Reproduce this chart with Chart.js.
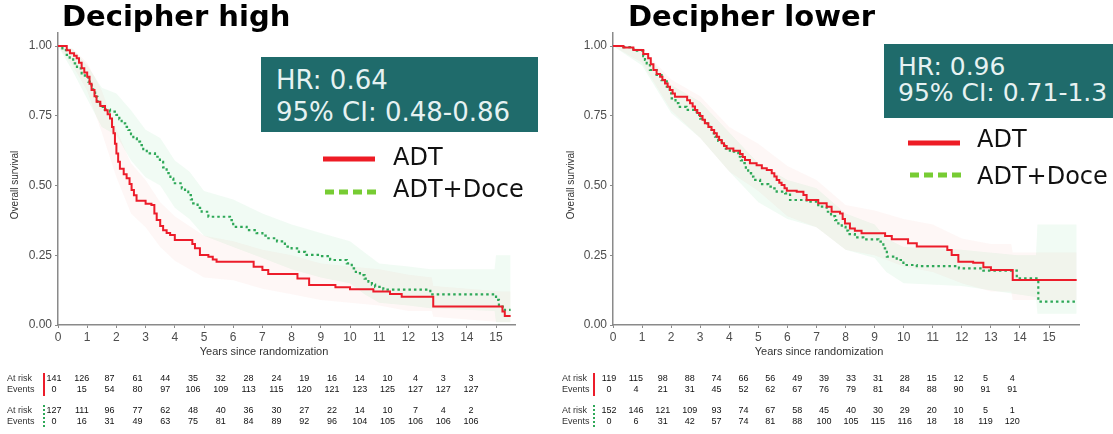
<!DOCTYPE html>
<html>
<head>
<meta charset="utf-8">
<script src="https://cdn.jsdelivr.net/npm/chart.js@4.4.1/dist/chart.umd.min.js"></script>
<style>
  html, body { margin: 0; padding: 0; background: #fff; width: 1113px; height: 434px; overflow: hidden; }
  .panel { position: absolute; top: 0; height: 434px; }
  .title { position: absolute; top: 2px; font: bold 29px "DejaVu Sans", sans-serif; line-height: 1; color: #000; white-space: nowrap; }
  .hrbox { position: absolute; background: #1f6b6b; overflow: hidden; }
  .hrbox div { position: absolute; font-family: "DejaVu Sans", sans-serif; line-height: 1; color: #e6f2f2; white-space: nowrap; }
  .leg { position: absolute; font: 24px "DejaVu Sans", sans-serif; line-height: 1; color: #111; white-space: nowrap; }
  svg.key { position: absolute; left: 0; top: 0; width: 1113px; height: 434px; pointer-events: none; }
</style>
</head>
<body>
<div class="panel" style="left:0;width:556px"><canvas id="cHigh" width="556" height="434"></canvas></div>
<div class="panel" style="left:556px;width:557px"><canvas id="cLow" width="557" height="434"></canvas></div>

<div class="title" style="left:62px">Decipher high</div>
<div class="title" style="left:628px">Decipher lower</div>

<div class="hrbox" style="left:261px;top:57px;width:277px;height:75px">
  <div style="left:15px;top:10px;font-size:26px">HR: 0.64</div>
  <div style="left:15px;top:42px;font-size:26px">95% CI: 0.48-0.86</div>
</div>
<div class="hrbox" style="left:884px;top:44px;width:229px;height:74px">
  <div style="left:14px;top:10px;font-size:25px">HR: 0.96</div>
  <div style="left:14px;top:36px;font-size:25px">95% CI: 0.71-1.3</div>
</div>

<svg class="key">
  <line x1="323" y1="159" x2="375" y2="159" stroke="#ee1c25" stroke-width="5"/>
  <line x1="325" y1="192" x2="377" y2="192" stroke="#77cc33" stroke-width="5" stroke-dasharray="9 5"/>
  <line x1="908" y1="143" x2="960" y2="143" stroke="#ee1c25" stroke-width="5"/>
  <line x1="910" y1="175" x2="962" y2="175" stroke="#77cc33" stroke-width="5" stroke-dasharray="9 5"/>
</svg>
<div class="leg" style="left:393px;top:145px">ADT</div>
<div class="leg" style="left:393px;top:177px">ADT+Doce</div>
<div class="leg" style="left:977px;top:127px">ADT</div>
<div class="leg" style="left:977px;top:164px">ADT+Doce</div>

<script>
// axis ticks
const xTicks = [0, 1, 2, 3, 4, 5, 6, 7, 8, 9, 10, 11, 12, 13, 14, 15];
const yTicks = [0, 0.25, 0.5, 0.75, 1];

// --- Decipher high: Kaplan-Meier steps (years, survival)
const highAdtT = [0, 0.3, 0.41, 0.55, 0.64, 0.72, 0.81, 0.9, 1.0, 1.08, 1.15, 1.25, 1.32, 1.45, 1.61, 1.7, 1.78, 1.85, 1.9, 1.95, 2.0, 2.06, 2.12, 2.25, 2.35, 2.45, 2.52, 2.6, 2.69, 3.0, 3.2, 3.3, 3.38, 3.5, 3.6, 3.72, 3.84, 4.0, 4.6, 4.69, 4.86, 5.15, 5.3, 5.43, 6.7, 7.0, 7.2, 8.2, 8.6, 9.5, 10.0, 10.8, 11.37, 11.77, 12.85, 15.22, 15.3, 15.5];
const highAdtS = [1, 0.985, 0.974, 0.965, 0.956, 0.94, 0.92, 0.905, 0.89, 0.865, 0.842, 0.82, 0.8, 0.785, 0.77, 0.755, 0.74, 0.71, 0.687, 0.65, 0.615, 0.585, 0.56, 0.54, 0.526, 0.505, 0.484, 0.465, 0.445, 0.435, 0.43, 0.4, 0.376, 0.355, 0.34, 0.33, 0.323, 0.305, 0.29, 0.275, 0.251, 0.245, 0.235, 0.227, 0.209, 0.197, 0.183, 0.167, 0.143, 0.135, 0.128, 0.12, 0.111, 0.101, 0.066, 0.048, 0.032, 0.032];
const highDoceT = [0, 0.15, 0.3, 0.4, 0.52, 0.65, 0.81, 0.92, 1.04, 1.15, 1.27, 1.35, 1.44, 1.6, 1.78, 2.0, 2.1, 2.18, 2.3, 2.41, 2.5, 2.58, 2.7, 2.81, 2.92, 3.04, 3.32, 3.49, 3.6, 3.72, 3.85, 3.95, 4.24, 4.35, 4.46, 4.55, 4.63, 4.78, 4.92, 5.15, 5.89, 6.0, 6.46, 6.8, 7.0, 7.15, 7.5, 7.77, 8.0, 8.25, 8.46, 8.97, 9.32, 9.89, 10.06, 10.2, 10.34, 10.5, 10.63, 10.75, 10.86, 11.14, 12.75, 15.0, 15.1, 15.3, 15.5];
const highDoceS = [1, 0.985, 0.968, 0.952, 0.938, 0.92, 0.902, 0.888, 0.872, 0.845, 0.818, 0.8, 0.782, 0.772, 0.765, 0.753, 0.738, 0.723, 0.71, 0.699, 0.684, 0.669, 0.657, 0.645, 0.63, 0.615, 0.603, 0.585, 0.565, 0.544, 0.525, 0.508, 0.49, 0.478, 0.466, 0.45, 0.436, 0.42, 0.406, 0.388, 0.376, 0.352, 0.34, 0.329, 0.32, 0.311, 0.3, 0.281, 0.275, 0.262, 0.251, 0.247, 0.233, 0.221, 0.203, 0.19, 0.179, 0.166, 0.155, 0.145, 0.137, 0.127, 0.11, 0.09, 0.066, 0.054, 0.054];
// confidence bands
const highAdtBandT = [0, 0.5, 1, 1.5, 2, 2.5, 3, 3.5, 4, 5, 6, 7, 8, 9, 10, 11, 12, 12.8, 12.85, 15.2, 15.5];
const highAdtLo = [1, 0.93, 0.84, 0.69, 0.53, 0.4, 0.35, 0.28, 0.23, 0.17, 0.16, 0.13, 0.11, 0.09, 0.08, 0.07, 0.05, 0.05, 0.03, 0.01, 0.01];
const highAdtHi = [1, 0.99, 0.94, 0.84, 0.7, 0.58, 0.52, 0.44, 0.39, 0.32, 0.3, 0.27, 0.25, 0.22, 0.21, 0.2, 0.18, 0.17, 0.14, 0.12, 0.12];
const highDoceBandT = [0, 0.5, 1, 1.5, 2, 2.5, 3, 3.5, 4, 4.5, 5, 6, 7, 8, 9, 10, 10.5, 11, 12, 12.75, 14.95, 15.0, 15.5];
const highDoceLo = [1, 0.91, 0.81, 0.71, 0.68, 0.59, 0.53, 0.5, 0.42, 0.38, 0.32, 0.28, 0.24, 0.2, 0.17, 0.15, 0.11, 0.08, 0.07, 0.06, 0.05, 0.01, 0.01];
const highDoceHi = [1, 0.99, 0.93, 0.85, 0.83, 0.77, 0.7, 0.67, 0.59, 0.55, 0.48, 0.45, 0.4, 0.36, 0.33, 0.3, 0.26, 0.22, 0.21, 0.2, 0.2, 0.25, 0.25];
// numbers at risk / events
const highAdtRisk = [141, 126, 87, 61, 44, 35, 32, 28, 24, 19, 16, 14, 10, 4, 3, 3];
const highAdtEvents = [0, 15, 54, 80, 97, 106, 109, 113, 115, 120, 121, 123, 125, 127, 127, 127];
const highDoceRisk = [127, 111, 96, 77, 62, 48, 40, 36, 30, 27, 22, 14, 10, 7, 4, 2];
const highDoceEvents = [0, 16, 31, 49, 63, 75, 81, 84, 89, 92, 96, 104, 105, 106, 106, 106];

// --- Decipher lower
const lowAdtT = [0, 0.36, 0.7, 1.04, 1.21, 1.3, 1.39, 1.5, 1.62, 1.7, 1.79, 1.88, 1.96, 2.05, 2.13, 2.55, 2.65, 2.74, 2.82, 2.9, 2.99, 3.08, 3.16, 3.28, 3.39, 3.48, 3.57, 3.65, 3.74, 3.82, 3.91, 4.14, 4.37, 4.46, 4.54, 4.71, 4.94, 5.12, 5.29, 5.46, 5.55, 5.63, 5.72, 5.8, 5.9, 5.98, 6.32, 6.55, 6.66, 7.06, 7.35, 7.52, 7.81, 7.9, 7.98, 8.15, 8.32, 8.55, 9.36, 9.59, 10.15, 10.45, 11.5, 11.65, 11.88, 12.39, 12.74, 13.0, 13.75, 15.95];
const lowAdtS = [1, 0.995, 0.986, 0.971, 0.956, 0.935, 0.914, 0.9, 0.89, 0.878, 0.866, 0.854, 0.842, 0.83, 0.818, 0.806, 0.795, 0.783, 0.771, 0.76, 0.749, 0.736, 0.723, 0.71, 0.699, 0.687, 0.675, 0.663, 0.651, 0.642, 0.633, 0.625, 0.613, 0.602, 0.591, 0.58, 0.573, 0.562, 0.556, 0.544, 0.532, 0.52, 0.51, 0.502, 0.49, 0.481, 0.478, 0.466, 0.448, 0.436, 0.424, 0.406, 0.4, 0.38, 0.364, 0.346, 0.338, 0.329, 0.319, 0.307, 0.293, 0.281, 0.269, 0.251, 0.227, 0.223, 0.207, 0.197, 0.161, 0.161];
const lowDoceT = [0, 0.36, 0.7, 1.04, 1.1, 1.16, 1.27, 1.5, 1.67, 1.85, 1.95, 2.02, 2.15, 2.25, 2.53, 2.88, 3.0, 3.16, 3.25, 3.34, 3.42, 3.51, 3.62, 3.74, 3.88, 4.02, 4.31, 4.4, 4.48, 4.57, 4.65, 4.75, 4.83, 5.06, 5.34, 5.51, 5.63, 5.92, 6.09, 6.66, 7.06, 7.35, 7.5, 7.64, 7.75, 7.87, 8.0, 8.09, 8.32, 8.61, 9.13, 9.3, 9.42, 9.76, 9.99, 10.45, 11.9, 12.74, 13.89, 14.63, 15.95];
const lowDoceS = [1, 0.996, 0.983, 0.964, 0.95, 0.938, 0.914, 0.896, 0.878, 0.854, 0.83, 0.812, 0.795, 0.782, 0.771, 0.753, 0.74, 0.723, 0.71, 0.699, 0.687, 0.675, 0.66, 0.645, 0.632, 0.621, 0.603, 0.59, 0.58, 0.56, 0.544, 0.532, 0.52, 0.505, 0.496, 0.49, 0.478, 0.472, 0.448, 0.442, 0.424, 0.406, 0.39, 0.376, 0.364, 0.352, 0.338, 0.326, 0.314, 0.307, 0.299, 0.275, 0.245, 0.233, 0.215, 0.211, 0.203, 0.195, 0.167, 0.084, 0.084];
const lowAdtBandT = [0, 1, 2, 3, 4, 5, 6, 7, 8, 9, 10, 11, 12, 13, 13.7, 13.75, 15.95];
const lowAdtLo = [1, 0.94, 0.77, 0.67, 0.55, 0.48, 0.39, 0.35, 0.27, 0.25, 0.21, 0.19, 0.15, 0.12, 0.12, 0.09, 0.09];
const lowAdtHi = [1, 0.99, 0.88, 0.82, 0.71, 0.65, 0.57, 0.52, 0.43, 0.41, 0.38, 0.36, 0.31, 0.29, 0.29, 0.26, 0.26];
const lowDoceBandT = [0, 1, 2, 3, 4, 5, 6, 7, 8, 9, 9.4, 10, 12, 13.9, 14.55, 14.6, 15.95];
const lowDoceLo = [1, 0.93, 0.76, 0.67, 0.55, 0.44, 0.38, 0.35, 0.27, 0.24, 0.19, 0.15, 0.14, 0.11, 0.1, 0.04, 0.04];
const lowDoceHi = [1, 0.99, 0.86, 0.8, 0.69, 0.58, 0.52, 0.49, 0.4, 0.36, 0.31, 0.28, 0.27, 0.25, 0.25, 0.36, 0.36];
const lowAdtRisk = [119, 115, 98, 88, 74, 66, 56, 49, 39, 33, 31, 28, 15, 12, 5, 4];
const lowAdtEvents = [0, 4, 21, 31, 45, 52, 62, 67, 76, 79, 81, 84, 88, 90, 91, 91];
const lowDoceRisk = [152, 146, 121, 109, 93, 74, 67, 58, 45, 40, 30, 29, 20, 10, 5, 1];
const lowDoceEvents = [0, 6, 31, 42, 57, 74, 81, 88, 100, 105, 115, 116, 18, 18, 119, 120];

const RED = "#ec1c2a";
const GREEN = "#2ea858";
const FONT = '"Liberation Sans", Arial, sans-serif';

function pts(t, s) {
  return t.map((x, i) => ({ x: x, y: s[i] }));
}

// axis titles + risk table under the plot
const riskTable = {
  id: "riskTable",
  afterDraw(chart, args, o) {
    const ctx = chart.ctx;
    const a = chart.chartArea;
    const xs = chart.scales.x;
    ctx.save();
    ctx.fillStyle = "#333";
    ctx.textAlign = "center";
    ctx.textBaseline = "middle";
    ctx.font = "11px " + FONT;
    ctx.fillText("Years since randomization", a.left + 206, 352);
    ctx.save();
    ctx.translate(15, 185);
    ctx.rotate(-Math.PI / 2);
    ctx.font = "10px " + FONT;
    ctx.fillText("Overall survival", 0, 0);
    ctx.restore();

    const unit = xs.getPixelForValue(1) - xs.getPixelForValue(0);
    const step = unit * o.colScale;
    const rows = [
      { y: [379, 390], vals: [o.adtRisk, o.adtEvents], color: RED, dash: [] },
      { y: [411, 422], vals: [o.doceRisk, o.doceEvents], color: GREEN, dash: [2, 2] },
    ];
    ctx.font = "9px " + FONT;
    rows.forEach((g) => {
      ctx.fillStyle = "#333";
      ctx.textAlign = "left";
      ctx.fillText("At risk", a.left - 51, g.y[0]);
      ctx.fillText("Events", a.left - 51, g.y[1]);
      ctx.strokeStyle = g.color;
      ctx.lineWidth = 2;
      ctx.setLineDash(g.dash);
      ctx.beginPath();
      ctx.moveTo(a.left + o.barOff, g.y[0] - 6);
      ctx.lineTo(a.left + o.barOff, g.y[1] + 6);
      ctx.stroke();
      ctx.setLineDash([]);
      ctx.fillStyle = "#111";
      ctx.textAlign = "center";
      g.vals.forEach((arr, r) => {
        arr.forEach((v, i) => {
          ctx.fillText(String(v), a.left - 4 + i * step, g.y[r]);
        });
      });
    });
    ctx.restore();
  },
};

function makePanel(id, cfg) {
  const band = (t, s, fill, bg) => ({
    data: pts(t, s),
    borderWidth: 0,
    pointRadius: 0,
    tension: 0,
    fill: fill,
    backgroundColor: bg,
    order: 2,
  });
  return new Chart(document.getElementById(id), {
    type: "line",
    data: {
      datasets: [
        {
          label: "ADT",
          data: pts(cfg.adtT, cfg.adtS),
          stepped: "before",
          borderColor: RED,
          borderWidth: 2,
          pointRadius: 0,
          fill: false,
          order: 0,
        },
        {
          label: "ADT+Doce",
          data: pts(cfg.doceT, cfg.doceS),
          stepped: "before",
          borderColor: GREEN,
          borderWidth: 2.2,
          borderDash: [2.5, 3],
          pointRadius: 0,
          fill: false,
          order: 0,
        },
        band(cfg.adtBandT, cfg.adtLo, false, "transparent"),
        band(cfg.adtBandT, cfg.adtHi, "-1", "rgba(240,110,90,0.055)"),
        band(cfg.doceBandT, cfg.doceLo, false, "transparent"),
        band(cfg.doceBandT, cfg.doceHi, "-1", "rgba(80,200,120,0.08)"),
      ],
    },
    options: {
      responsive: false,
      animation: false,
      layout: { padding: { top: 33, right: cfg.padRight, bottom: 0, left: 0 } },
      plugins: {
        legend: { display: false },
        tooltip: { enabled: false },
        riskTable: cfg.table,
      },
      scales: {
        x: {
          type: "linear",
          min: 0,
          max: cfg.xMax,
          afterBuildTicks: (s) => (s.ticks = xTicks.map((v) => ({ value: v }))),
          afterFit: (s) => {
            s.height = 109;
            s.paddingLeft = 0;
            s.paddingRight = 0;
          },
          ticks: { font: { size: 12, family: FONT }, color: "#4d4d4d", padding: 2, maxRotation: 0, autoSkip: false },
          grid: { drawOnChartArea: false, tickLength: 3, color: "#8a8a8a" },
          border: { color: "#8a8a8a", width: 1.5 },
        },
        y: {
          min: 0,
          max: 1.0466,
          afterBuildTicks: (s) => (s.ticks = yTicks.map((v) => ({ value: v }))),
          afterFit: (s) => {
            s.width = cfg.left;
            s.paddingTop = 0;
            s.paddingBottom = 0;
          },
          ticks: { font: { size: 12, family: FONT }, color: "#4d4d4d", padding: 3, callback: (v) => v.toFixed(2) },
          grid: { drawOnChartArea: false, tickLength: 3, color: "#8a8a8a" },
          border: { color: "#8a8a8a", width: 1.5 },
        },
      },
    },
    plugins: [riskTable],
  });
}

makePanel("cHigh", {
  adtT: highAdtT, adtS: highAdtS, doceT: highDoceT, doceS: highDoceS,
  adtBandT: highAdtBandT, adtLo: highAdtLo, adtHi: highAdtHi,
  doceBandT: highDoceBandT, doceLo: highDoceLo, doceHi: highDoceHi,
  left: 58, padRight: 41, xMax: 15.65,
  table: { adtRisk: highAdtRisk, adtEvents: highAdtEvents, doceRisk: highDoceRisk, doceEvents: highDoceEvents, colScale: 0.952, barOff: -14 },
});

makePanel("cLow", {
  adtT: lowAdtT, adtS: lowAdtS, doceT: lowDoceT, doceS: lowDoceS,
  adtBandT: lowAdtBandT, adtLo: lowAdtLo, adtHi: lowAdtHi,
  doceBandT: lowDoceBandT, doceLo: lowDoceLo, doceHi: lowDoceHi,
  left: 57, padRight: 34, xMax: 16.03,
  table: { adtRisk: lowAdtRisk, adtEvents: lowAdtEvents, doceRisk: lowDoceRisk, doceEvents: lowDoceEvents, colScale: 0.925, barOff: -19 },
});
</script>
</body>
</html>
